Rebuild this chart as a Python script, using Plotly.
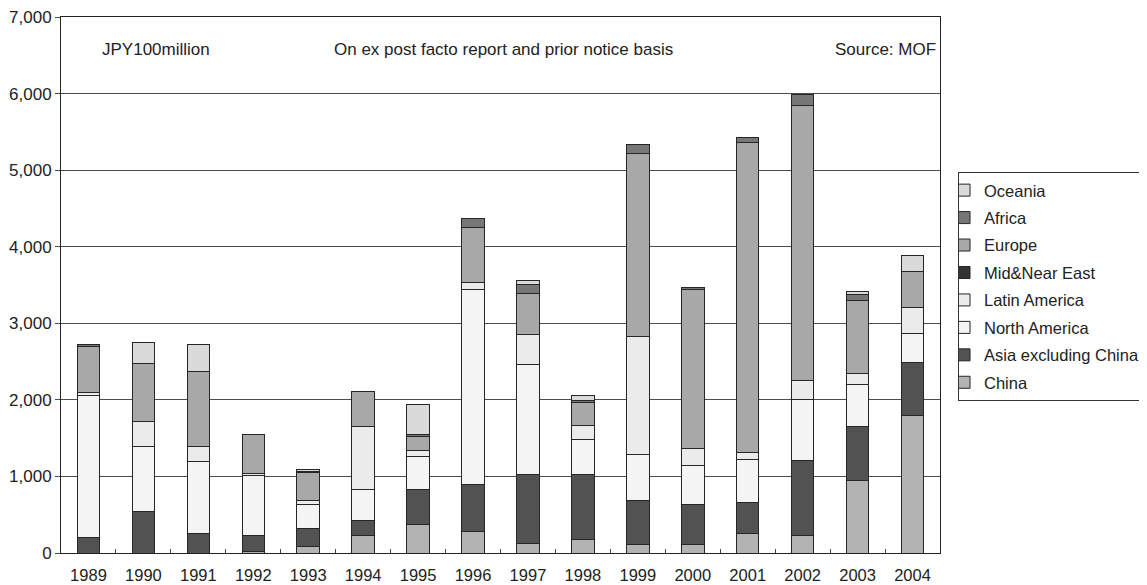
import plotly.graph_objects as go

# JPY100million, stacked by region (bottom -> top)
years = ['1989', '1990', '1991', '1992', '1993', '1994', '1995', '1996',
         '1997', '1998', '1999', '2000', '2001', '2002', '2003', '2004']

china = [0, 0, 0, 22, 87, 227, 375, 279, 118, 170, 109, 113, 257, 226, 943, 1800]
asia_ex_china = [200, 545, 261, 209, 227, 204, 453, 610, 910, 858, 574, 517, 404, 978, 712, 685]
north_america = [1857, 849, 937, 776, 313, 397, 427, 2553, 1430, 458, 600, 513, 565, 796, 541, 380]
latin_america = [34, 318, 196, 26, 61, 828, 87, 89, 402, 174, 1547, 227, 87, 258, 149, 347]
mid_near_east = [0, 0, 0, 0, 0, 0, 0, 0, 0, 0, 0, 0, 0, 0, 0, 0]
europe = [600, 767, 976, 509, 362, 457, 174, 722, 524, 309, 2388, 2071, 4053, 3592, 952, 468]
africa = [30, 0, 0, 0, 10, 0, 26, 118, 120, 27, 122, 30, 57, 140, 81, 0]
oceania = [0, 271, 355, 0, 25, 0, 401, 0, 54, 65, 0, 0, 0, 0, 32, 203]

series = [
    ('China', china, '#b3b3b3'),
    ('Asia excluding China', asia_ex_china, '#525252'),
    ('North America', north_america, '#f4f4f4'),
    ('Latin America', latin_america, '#ebebeb'),
    ('Mid&Near East', mid_near_east, '#333333'),
    ('Europe', europe, '#a8a8a8'),
    ('Africa', africa, '#777777'),
    ('Oceania', oceania, '#dadada'),
]

fig = go.Figure()
n = len(series)
for i, (name, vals, col) in enumerate(series):
    # one legend group per trace so tracegroupgap spaces the entries; rank puts Oceania on top
    fig.add_trace(go.Bar(x=years, y=vals, name=name, legendgroup=name, legendrank=n - i,
                         marker=dict(color=col, line=dict(color='#262626', width=1))))

font = 'Liberation Sans, Arial, sans-serif'
# page body has an 8px margin, so the figure is drawn 8px smaller and shifted
fig.update_layout(
    barmode='stack', bargap=0.59,
    width=1139, height=577,
    paper_bgcolor='white', plot_bgcolor='white',
    margin=dict(l=53, r=207, t=9, b=32, autoexpand=False),
    font=dict(family=font, size=17, color='#222222'),
    legend=dict(traceorder='grouped', tracegroupgap=3, indentation=-15,
                x=1.0205, xanchor='left', y=0.711, yanchor='top',
                bordercolor='#333333', borderwidth=1, font=dict(size=16.5)),
    showlegend=True,
)
fig.update_yaxes(range=[0, 7000], dtick=1000, tickformat=',', showgrid=True, automargin=False,
                 gridcolor='#4d4d4d', gridwidth=1, showline=True, linecolor='#222222',
                 linewidth=1, mirror=True, ticks='outside', ticklen=5, tickcolor='#4d4d4d',
                 zeroline=False, ticklabeloverflow='allow')
fig.update_xaxes(showline=True, linecolor='#222222', linewidth=1, mirror=True, automargin=False,
                 ticks='inside', tickson='boundaries', ticklen=4, tickcolor='#444444',
                 ticklabelstandoff=7, tickfont=dict(size=16.5), ticklabeloverflow='allow')

fig.add_annotation(text='JPY100million', xref='paper', yref='paper', x=0.044, y=0.94,
                   xanchor='left', yanchor='middle', showarrow=False)
fig.add_annotation(text='On ex post facto report and prior notice basis', xref='paper', yref='paper',
                   x=0.503, y=0.94, xanchor='center', yanchor='middle', showarrow=False)
fig.add_annotation(text='Source: MOF', xref='paper', yref='paper', x=0.998, y=0.94,
                   xanchor='right', yanchor='middle', showarrow=False)

fig.write_html('out.html')
